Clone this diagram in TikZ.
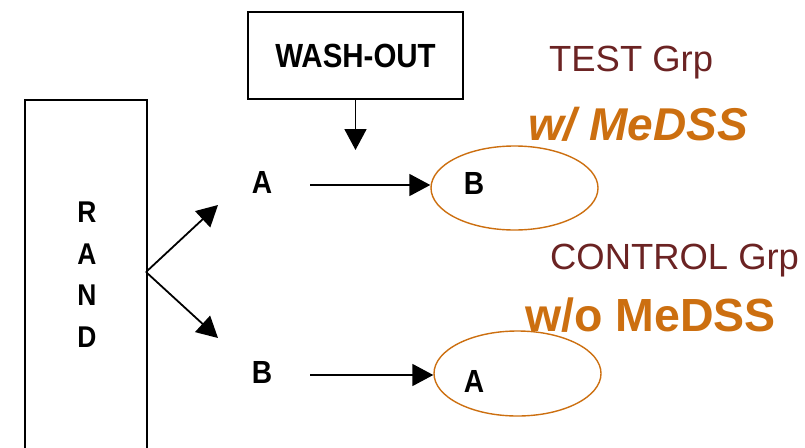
\documentclass[tikz,border=0pt]{standalone}
\usepackage{fontspec}
\setmainfont{Liberation Sans}
\newfontfamily\narrowsans{Liberation Sans}[FakeStretch=0.88]
\usetikzlibrary{arrows.meta,shapes.geometric}
\definecolor{grpred}{HTML}{6B2323}
\definecolor{medss}{HTML}{CC6F10}
\begin{document}
\begin{tikzpicture}[x=1pt,y=-1pt,
  box/.style={draw, line width=1.8pt, inner sep=0pt},
  lbl/.style={font=\narrowsans\bfseries\fontsize{32}{32}\selectfont, inner sep=0pt},
  conn/.style={line width=1.8pt, -{Triangle[length=21pt,width=22pt]}},
  oval/.style={ellipse, draw=medss, line width=1.4pt, inner sep=0pt},
  grp/.style={font=\fontsize{36.4}{36}\selectfont, text=grpred, inner sep=0pt, anchor=base west},
  medsstxt/.style={font=\bfseries\fontsize{46.5}{46}\selectfont, text=medss, inner sep=0pt, anchor=base west}]
\useasboundingbox (0,0) rectangle (805,447);
\clip (0,0) rectangle (805,447);
% RAND box
\node[box, minimum width=122pt, minimum height=380pt, anchor=north west] (rand) at (24,99) {};
\node[inner sep=0pt, align=center, font=\narrowsans\bfseries\fontsize{30}{41.5}\selectfont] (randtxt) at (87,274.5) {R\\A\\N\\D};
\coordinate (split) at (146,272);
\coordinate (upTip) at (218,205);
\coordinate (downTip) at (218,338);
\draw[conn] (split) -- (upTip);
\draw[conn] (split) -- (downTip);
% WASH-OUT
\node[box, minimum width=215pt, minimum height=87pt, font=\narrowsans\bfseries\fontsize{33.5}{33}\selectfont] (wash) at (355.5,55.5) {WASH-OUT};
\coordinate (washTip) at (355.5,150);
\draw[conn] (wash.south) -- (washTip);
% test arm
\node[lbl] (a1) at (262,182) {A};
\node[oval, minimum width=167pt, minimum height=84pt] (e1) at (514.5,188) {};
\node[lbl] (b2) at (474,183) {B};
\coordinate (s1) at (310,185);
\draw[conn] (s1) -- (s1 -| e1.west);
% control arm
\node[lbl] (b1) at (262,372) {B};
\node[oval, minimum width=167pt, minimum height=85pt] (e2) at (517.5,373.5) {};
\node[lbl] (a2) at (474,381) {A};
\coordinate (s2) at (310,375);
\draw[conn] (s2) -- (s2 -| e2.west);
% group labels
\node[grp] (test) at (549,71) {TEST Grp};
\node[medsstxt, font=\bfseries\itshape\fontsize{46}{46}\selectfont] (with) at (528,140) {w/ MeDSS};
\node[grp] (ctrl) at (550,269) {CONTROL Grp};
\node[medsstxt] (without) at (525,331) {w/o MeDSS};
\end{tikzpicture}
\end{document}
